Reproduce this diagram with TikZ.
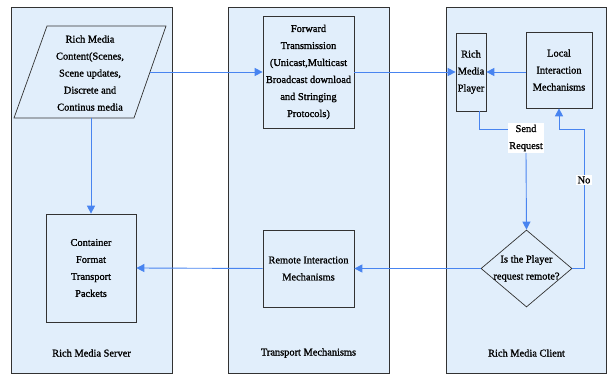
\documentclass[tikz,border=0pt]{standalone}
\usepackage{fontspec}
\setmainfont{Liberation Serif}[FakeBold=1.2]
\usetikzlibrary{arrows.meta,shapes.geometric}
\definecolor{panelfill}{RGB}{225,238,251}
\definecolor{arrblue}{RGB}{72,132,240}
\definecolor{edge}{RGB}{50,50,50}
\tikzset{
  txt/.style={font=\fontsize{10.4}{17}\selectfont, align=center, inner sep=0pt},
  panel/.style={draw=edge, fill=panelfill, line width=0.8pt},
  box/.style={draw=edge, fill=panelfill, line width=0.7pt, txt},
  conn/.style={draw=arrblue, line width=0.9pt},
  arr/.style={conn, -{Triangle[length=8pt,width=8pt]}},
  lbl/.style={txt, fill=white, inner sep=1.5pt}
}
\begin{document}
\begin{tikzpicture}[x=1pt,y=-1pt]
\useasboundingbox (0,0) rectangle (608,374);
% panels
\node[panel, minimum width=161pt, minimum height=366pt, inner sep=0] (server) at (91.5,190) {};
\node[panel, minimum width=161pt, minimum height=366pt, inner sep=0] (transport) at (308.5,190) {};
\node[panel, minimum width=160pt, minimum height=366pt, inner sep=0] (client) at (526,190) {};
\node[txt] (serverlbl) at (91.5,353) {Rich Media Server};
\node[txt] (transportlbl) at (308.5,353) {Transport Mechanisms};
\node[txt] (clientlbl) at (526.5,353) {Rich Media Client};
% parallelogram
\draw[draw=edge, fill=panelfill, line width=0.7pt] (47,26) -- (166,26) -- (134,118) -- (14,118) -- cycle;
\coordinate (cR) at (150,72);
\coordinate (cB) at (91,118);
\node[txt] (content) at (90,73) {Rich Media\\Content(Scenes,\\Scene updates,\\Discrete and\\Continus media};
% boxes
\node[box, minimum width=91pt, minimum height=112pt] (fwd) at (308.5,72) {Forward\\Transmission\\(Unicast,Multicast\\Broadcast download\\and Stringing\\Protocols)};
\node[box, minimum width=30pt, minimum height=78pt] (player) at (471,72) {Rich\\Media\\Player};
\node[box, minimum width=66pt, minimum height=76pt] (local) at (559,70) {Local\\Interaction\\Mechanisms};
\node[box, minimum width=91pt, minimum height=77pt] (remote) at (308.5,268.5) {Remote Interaction\\Mechanisms};
\node[box, minimum width=90pt, minimum height=108pt] (container) at (91,268) {Container\\Format\\Transport\\Packets};
\node[draw=edge, fill=panelfill, line width=0.7pt, diamond, minimum width=91pt, minimum height=77pt, inner sep=0pt] (dec) at (526.5,268.5) {};
\node[txt] (dectxt) at (526.5,268.5) {Is the Player\\request remote?};
% labels on connectors
\node[lbl] (send) at (526,138) {Send\\Request};
\node[lbl] (no) at (584,180) {No};
% connectors
\draw[arr] (cR) -- (fwd.west |- cR);
\draw[arr] (fwd.east) -- (player.west);
\draw[arr] (local.west |- player.east) -- (player.east);
\draw[arr] (cB) -- (container.north);
\draw[conn] ([xshift=8pt]player.south) |- (send.west |- 0,129);
\draw[arr] (send.south) -- (dec.north);
\draw[conn] (dec.east) -| (no.south);
\draw[arr] (no.north) |- (559,129) -- (local.south);
\draw[arr] (dec.west) -- (remote.east);
\draw[arr] (remote.west) -- (container.east);
\end{tikzpicture}
\end{document}
